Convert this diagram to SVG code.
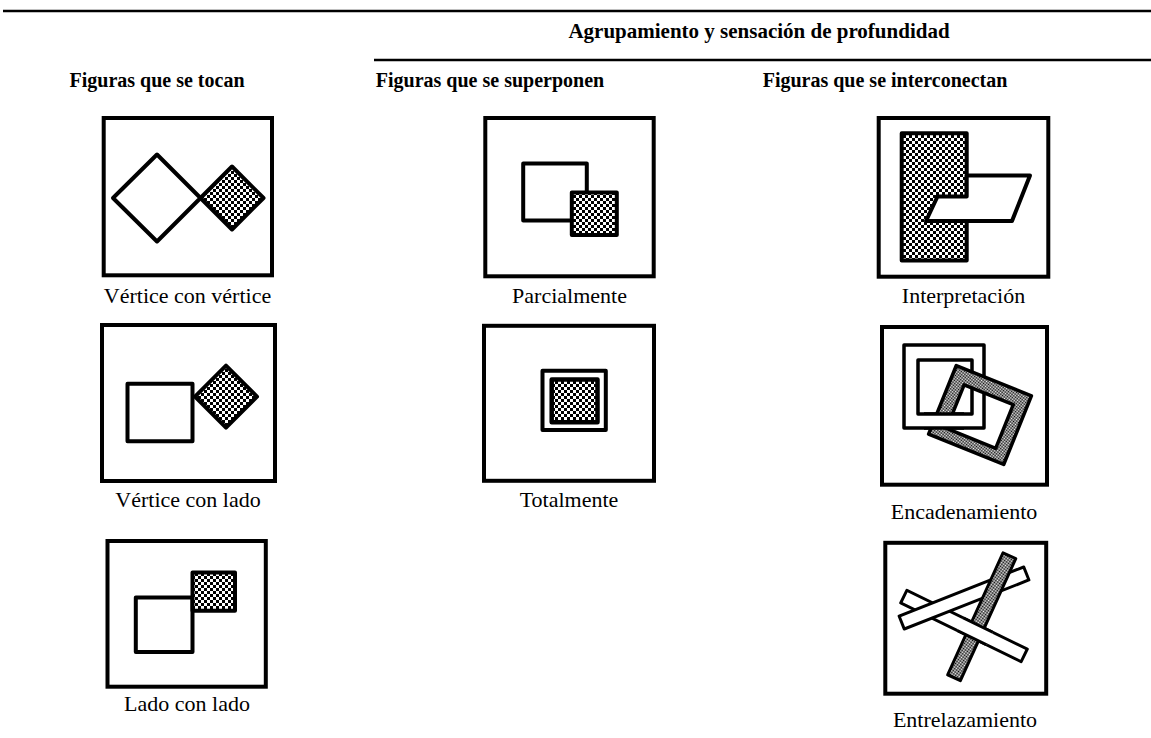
<svg xmlns="http://www.w3.org/2000/svg" width="1151" height="738" viewBox="0 0 1151 738">
  <style>
    .frame { fill: #fff; stroke: #000; stroke-width: 4; }
    .shape { fill: #fff; stroke: #000; stroke-width: 4; stroke-linejoin: round; }
    .dots { fill: url(#checker); stroke: #000; stroke-width: 4; stroke-linejoin: round; }
    .band { fill: #fff; stroke: #000; stroke-width: 3; stroke-linejoin: round; }
    .band-dots { fill: url(#checkerFine); stroke: #000; stroke-width: 3; stroke-linejoin: round; }
    .rule { stroke: #000; stroke-width: 2.5; }
    .head { font-family: "Liberation Serif", "Times New Roman", serif; font-weight: bold; font-size: 20px; text-anchor: middle; fill: #000; }
    .label { font-family: "Liberation Serif", "Times New Roman", serif; font-size: 22px; text-anchor: middle; fill: #000; }
  </style>
  <defs>
    <pattern id="checker" width="6" height="6" patternUnits="userSpaceOnUse">
      <rect width="6" height="6" fill="#fff"/>
      <rect width="3" height="3" fill="#000"/>
      <rect x="3" y="3" width="3" height="3" fill="#000"/>
    </pattern>
    <pattern id="checkerFine" width="2" height="2" patternUnits="userSpaceOnUse">
      <rect width="2" height="2" fill="#fff"/>
      <rect width="1" height="1" fill="#000"/>
      <rect x="1" y="1" width="1" height="1" fill="#000"/>
    </pattern>
    <clipPath id="chainCross">
      <rect x="924" y="404" width="40" height="32"/>
    </clipPath>
    <clipPath id="weaveCross">
      <circle cx="975" cy="631" r="18"/>
    </clipPath>
  </defs>

  <rect width="1151" height="738" fill="#fff"/>

  <!-- table rules -->
  <g id="rules">
    <line class="rule" x1="3" y1="11" x2="1151" y2="11"/>
    <line class="rule" x1="374" y1="60" x2="1151" y2="60"/>
  </g>

  <!-- column headings -->
  <g id="headings">
    <text class="head" x="759" y="38" style="font-size:21px">Agrupamiento y sensación de profundidad</text>
    <text class="head" x="157" y="87">Figuras que se tocan</text>
    <text class="head" x="490" y="87">Figuras que se superponen</text>
    <text class="head" x="885" y="87">Figuras que se interconectan</text>
  </g>

  <!-- column 1: touching figures -->
  <g id="vertice-vertice">
    <rect class="frame" x="103.7" y="118" width="168.3" height="157.3"/>
    <polygon class="shape" points="113,198 157,154.5 200.5,198 157,241.5"/>
    <polygon class="dots" points="200.5,198 232,166.5 263.5,198 232,229.5"/>
    <text class="label" x="187.5" y="303">Vértice con vértice</text>
  </g>

  <g id="vertice-lado">
    <rect class="frame" x="102" y="325" width="173" height="156"/>
    <rect class="shape" x="127.5" y="383.8" width="65" height="57.4"/>
    <polygon class="dots" points="195,396.7 226,365.7 257,396.7 226,427.7"/>
    <text class="label" x="188" y="507">Vértice con lado</text>
  </g>

  <g id="lado-lado">
    <rect class="frame" x="107.5" y="541" width="158.3" height="145.7"/>
    <rect class="shape" x="135.8" y="597.5" width="56.7" height="54.5"/>
    <rect class="dots" x="192.5" y="572.5" width="42.5" height="38.3"/>
    <text class="label" x="187" y="711">Lado con lado</text>
  </g>

  <!-- column 2: overlapping figures -->
  <g id="parcialmente">
    <rect class="frame" x="485.3" y="118" width="168.4" height="158.3"/>
    <rect class="shape" x="523.2" y="163.5" width="63.6" height="57"/>
    <rect class="dots" x="571.8" y="192.5" width="45" height="42.5"/>
    <text class="label" x="569.5" y="303">Parcialmente</text>
  </g>

  <g id="totalmente">
    <rect class="frame" x="484" y="325.8" width="170" height="155"/>
    <rect class="shape" x="542.5" y="370.8" width="63.3" height="59.2"/>
    <rect class="dots" x="551.7" y="379.5" width="45.8" height="42.7" style="stroke-width:4.5"/>
    <text class="label" x="569" y="507">Totalmente</text>
  </g>

  <!-- column 3: interconnected figures -->
  <g id="interpretacion">
    <rect class="frame" x="878.7" y="118" width="169.6" height="158.7"/>
    <rect class="dots" x="901.7" y="133.3" width="65" height="127.2"/>
    <polygon class="shape" points="966.7,175.5 1030,175.5 1012,221 926,221 937.5,196.5 966.7,196.5"/>
    <text class="label" x="963.5" y="303">Interpretación</text>
  </g>

  <g id="encadenamiento">
    <rect class="frame" x="882" y="327" width="165" height="157.7"/>
    <!-- white square ring -->
    <path class="band" fill-rule="evenodd" style="stroke-width:3.5"
          d="M904,345 H984 V428 H904 Z M918,360 V414 H972 V360 Z"/>
    <!-- tilted dotted ring linked through it -->
    <path class="band-dots" fill-rule="evenodd" style="stroke-width:3.5"
          transform="translate(980,415) rotate(22)"
          d="M-40.5,-37 H40.5 V37 H-40.5 Z M-26,-22 V25 H27 V-22 Z"/>
    <!-- bottom bar of the white ring passes in front -->
    <g clip-path="url(#chainCross)">
      <path class="band" fill-rule="evenodd" style="stroke-width:3.5"
            d="M904,345 H984 V428 H904 Z M918,360 V414 H972 V360 Z"/>
    </g>
    <text class="label" x="964" y="519">Encadenamiento</text>
  </g>

  <g id="entrelazamiento">
    <rect class="frame" x="885.3" y="542.8" width="160.9" height="150.9"/>
    <!-- strip descending to the right -->
    <rect class="band" x="-67" y="-7" width="134" height="14" transform="translate(964,626) rotate(26)"/>
    <!-- strip rising to the right -->
    <rect class="band" x="-67" y="-7" width="134" height="14" transform="translate(964,598) rotate(-21.5)"/>
    <!-- dotted strip -->
    <rect class="band-dots" x="-7" y="-67" width="14" height="134" transform="translate(981.7,616.7) rotate(24.4)"/>
    <!-- descending strip crosses over the dotted one -->
    <g clip-path="url(#weaveCross)">
      <rect class="band" x="-67" y="-7" width="134" height="14" transform="translate(964,626) rotate(26)"/>
    </g>
    <text class="label" x="965" y="727">Entrelazamiento</text>
  </g>
</svg>
